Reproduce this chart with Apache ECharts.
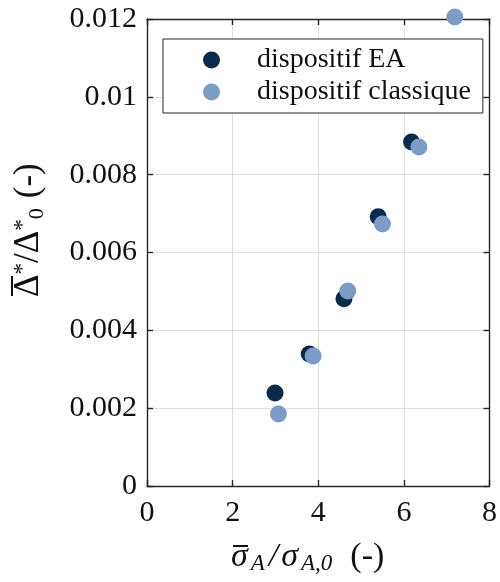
<!DOCTYPE html>
<html>
<head>
<meta charset="utf-8">
<script src="https://cdn.jsdelivr.net/npm/echarts@6/dist/echarts.min.js"></script>
<style>html,body{margin:0;padding:0;background:#fff}#c{width:500px;height:582px}</style>
</head>
<body>
<div id="c"></div>
<script>
// data
const seriesNames = ['dispositif EA', 'dispositif classique'];
const xEA = [2.99, 3.79, 4.60, 5.40, 6.18];
const yEA = [0.00239, 0.00339, 0.00481, 0.00692, 0.00884];
const xCl = [3.07, 3.88, 4.69, 5.50, 6.35, 7.19];
const yCl = [0.00185, 0.00334, 0.00501, 0.00673, 0.00871, 0.01205];
const xTicks = {min: 0, max: 8, interval: 2};
const yTicks = {min: 0, max: 0.012, interval: 0.002};

const FONT = 'Liberation Serif';
const AX = '#262626';
const TXT = '#111';
const chart = echarts.init(document.getElementById('c'), null, {renderer: 'canvas'});

function axisCommon(pos, showLabels, isY) {
  return {
    type: 'value', position: pos,
    min: isY ? yTicks.min : xTicks.min,
    max: isY ? yTicks.max : xTicks.max,
    interval: isY ? yTicks.interval : xTicks.interval,
    axisLine: {show: true, onZero: false, lineStyle: {color: AX, width: 1.4}},
    axisTick: {show: true, inside: true, length: 6, lineStyle: {color: AX, width: 1.4}},
    axisLabel: {show: showLabels, fontFamily: FONT, fontSize: 30, color: TXT, margin: isY ? 10 : 12},
    splitLine: {show: showLabels, lineStyle: {color: '#dedede', width: 1}}
  };
}

chart.setOption({
  animation: false,
  backgroundColor: '#fff',
  grid: {left: 147, right: 10, top: 19, bottom: 96, containLabel: false},
  xAxis: [axisCommon('bottom', true, false), axisCommon('top', false, false)],
  yAxis: [axisCommon('left', true, true), axisCommon('right', false, true)],
  legend: {
    orient: 'vertical', left: 163, top: 39,
    data: seriesNames,
    backgroundColor: '#fff', borderColor: AX, borderWidth: 1,
    padding: [7, 12, 7, 40],
    itemWidth: 17, itemHeight: 17, itemGap: 4,
    icon: 'circle',
    textStyle: {fontFamily: FONT, fontSize: 28, color: TXT, lineHeight: 28, padding: [0, 0, 0, 32]}
  },
  graphic: [
    {
      type: 'group', x: 29, y: 297, rotation: Math.PI / 2,
      children: [
        {
          type: 'text', x: 0, y: 0,
          style: {
            text: '{b|Δ}{s|*}{b|/Δ}{s|*}{d|0}{p|(-)}',
            align: 'left', verticalAlign: 'middle',
            rich: {
              b: {fontFamily: FONT, fontSize: 35, fill: TXT},
              s: {fontFamily: FONT, fontSize: 23, fill: TXT, padding: [0, 0, 12, 0]},
              d: {fontFamily: FONT, fontSize: 22, fill: TXT, padding: [16, 0, 0, 0]},
              p: {fontFamily: FONT, fontSize: 35, fill: TXT, padding: [0, 0, 0, 10]}
            }
          }
        },
        {type: 'line', shape: {x1: 1, y1: -17, x2: 21, y2: -17}, style: {stroke: TXT, lineWidth: 2}}
      ]
    },
    {
      type: 'group', x: 231, y: 557,
      children: [
        {
          type: 'text', x: 0, y: 0,
          style: {
            text: '{i|σ}{s|A}{sl|/}{i|σ}{s|A,0}{b|(-)}',
            align: 'left', verticalAlign: 'middle',
            rich: {
              i: {fontFamily: FONT, fontSize: 34, fontStyle: 'italic', fill: TXT},
              sl: {fontFamily: FONT, fontSize: 34, fontStyle: 'italic', fill: TXT, padding: [0, 3, 0, 4]},
              s: {fontFamily: FONT, fontSize: 23, fontStyle: 'italic', fill: TXT, padding: [13, 0, 0, 3]},
              b: {fontFamily: FONT, fontSize: 34, fill: TXT, padding: [0, 0, 0, 18]}
            }
          }
        },
        {type: 'line', shape: {x1: 2, y1: -11, x2: 17, y2: -11}, style: {stroke: TXT, lineWidth: 2}}
      ]
    }
  ],
  series: [
    {
      name: seriesNames[0], type: 'scatter', clip: false, symbolSize: 17,
      itemStyle: {color: '#0b2a4b', opacity: 1},
      data: xEA.map((x, i) => [x, yEA[i]])
    },
    {
      name: seriesNames[1], type: 'scatter', clip: false, symbolSize: 17,
      itemStyle: {color: '#7d9cc5', opacity: 1},
      data: xCl.map((x, i) => [x, yCl[i]])
    }
  ]
});
</script>
</body>
</html>
